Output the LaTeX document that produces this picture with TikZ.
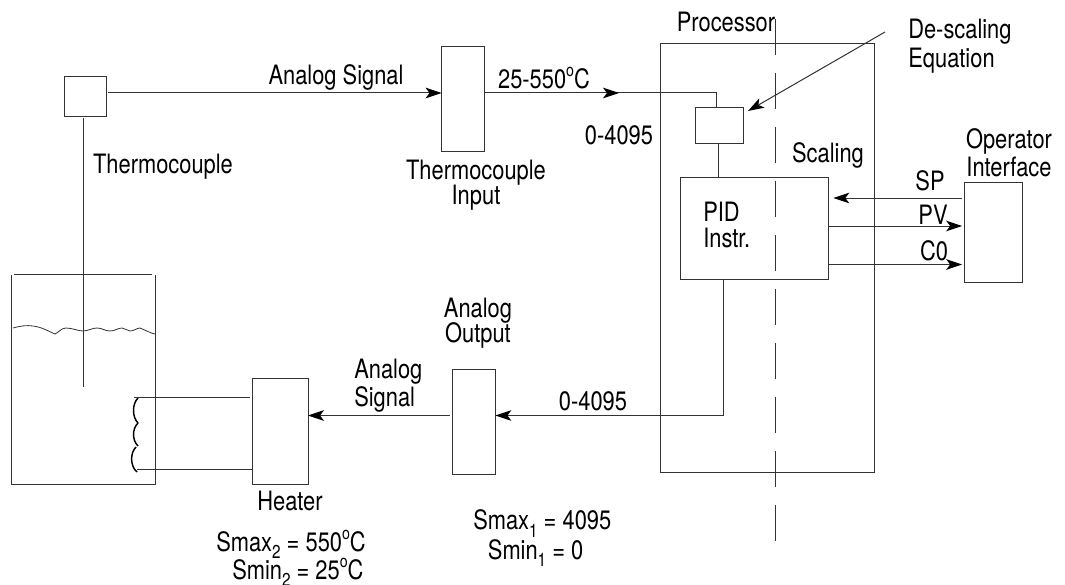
\documentclass[tikz,border=0pt]{standalone}
\usepackage{fontspec}
\setmainfont{TeX Gyre Heros}[FakeStretch=0.82]
\usetikzlibrary{arrows.meta}
\newcommand{\subd}[1]{\smash{\raisebox{-0.28em}{\fontsize{14}{14}\selectfont #1}}}
\newcommand{\supo}{\raisebox{0.42em}{\fontsize{13}{13}\selectfont o}}
\tikzset{
 wire/.style={draw=black!80,line width=0.75pt},
 bx/.style={wire,rectangle,inner sep=0pt,outer sep=0pt},
 lab/.style={font=\fontsize{20}{21}\selectfont,inner sep=0pt,text=black},
 arr/.style={wire,-{Stealth[length=12pt,width=8pt,inset=3pt,color=black]}},
}
\begin{document}
\begin{tikzpicture}[x=0.75pt,y=-0.75pt]
\useasboundingbox (0,0) rectangle (1065,585);
\fill[white] (0,0) rectangle (1065,585);
% boxes
\node[bx,minimum width=160.5pt,minimum height=321pt] (proc) at (767,258) {};
\node[bx,minimum width=31pt,minimum height=29.5pt] (tc) at (85.5,96.5) {};
\node[bx,minimum width=32.5pt,minimum height=79pt] (tci) at (463.2,99) {};
\node[bx,minimum width=36.5pt,minimum height=27pt] (ds) at (719.5,126) {};
\node[bx,minimum width=111pt,minimum height=76.5pt] (pid) at (754,228) {};
\node[bx,minimum width=44pt,minimum height=74.5pt] (op) at (993.5,232.5) {};
\node[bx,minimum width=32.5pt,minimum height=79pt] (ao) at (473.7,422) {};
\node[bx,minimum width=42pt,minimum height=79pt] (heater) at (280,431.5) {};
% tank
\coordinate (tkTL) at (11.5,274.5);
\coordinate (tkTR) at (155,274.5);
\coordinate (tkBL) at (11.5,484.5);
\coordinate (tkBR) at (155,484.5);
\draw[wire] (tkTL) -- (tkBL) -- (tkBR) -- (tkTR);
\draw[wire] (14,274.5) -- (152,274.5);
\draw[wire,line width=0.6pt] (13,328) .. controls (20,326) and (27,325) .. (33,326)
  .. controls (42,327) and (50,332) .. (55,334)
  .. controls (58,333) and (61,328) .. (66,328)
  .. controls (72,328) and (78,331) .. (83,331)
  .. controls (88,331) and (92,328) .. (97,328)
  .. controls (102,328) and (105,331) .. (110,331)
  .. controls (115,331) and (118,328) .. (122,328)
  .. controls (125,328) and (127,331) .. (130,331)
  .. controls (134,331) and (137,328) .. (140,328)
  .. controls (145,330) and (150,333) .. (155,334);
% probe
\coordinate (tip) at (83,387);
\draw[wire] (tc.south -| tip) ++(0,2) -- (tip);
% coil
\coordinate (c1) at (138,398);
\coordinate (c2) at (138,423);
\coordinate (c3) at (138,446);
\coordinate (c4) at (136,447);
\coordinate (c5) at (137,472);
\draw[black,line width=1.1pt] (c1) .. controls (132,404) and (132,417) .. (c2);
\draw[black,line width=1.1pt] (c2) .. controls (132,429) and (132,440) .. (c3);
\draw[black,line width=1.1pt] (c4) .. controls (130,453) and (130,466) .. (c5);
% heater wires
\draw[wire] (134,397.5) -- (250,397.5);
\draw[wire] (137,469.5) -- (heater.west |- 0,469.5);
% signal lines
\draw[arr,shorten <=1.5pt] (tc.east |- 0,93) -- (tci.west |- 0,93);
\coordinate (jt) at (716.5,93);
\draw[wire] (tci.east |- 0,93) -- (jt) -- (ds.north -| jt);
\draw[arr] (tci.east |- 0,93) -- (619,93);
\draw[wire] (ds.south -| 718,0) -- (pid.north -| 718,0);
\coordinate (jb) at (723,415.5);
\draw[wire] (pid.south -| jb) -- (jb);
\draw[arr] (jb) -- (ao.east |- jb);
\draw[arr,shorten <=1.5pt] (ao.west |- jb) -- (heater.east |- jb);
\draw[arr,shorten <=1.5pt,shorten >=4pt] (op.west |- 0,198) -- (pid.east |- 0,198);
\draw[arr,shorten >=1.5pt] (pid.east |- 0,226) -- (op.west |- 0,226);
\draw[arr,shorten >=1.5pt] (pid.east |- 0,264.5) -- (op.west |- 0,264.5);
% de-scaling pointer
\coordinate (dsfrom) at (885,32);
\coordinate (dstip) at (748,111);
\draw[arr] (dsfrom) -- (dstip);
% centre line
\coordinate (clt) at (775,19);
\coordinate (clb) at (775,542);
\draw[wire,dash pattern=on 27pt off 13.5pt] (clt) -- (clb);
% labels
\node[lab] (l1) at (336,77) {Analog Signal};
\node[lab] (l2) at (163,167) {Thermocouple};
\node[lab,align=center] (l3) at (476,185) {Thermocouple\\[-2.2pt]Input};
\node[lab] (l4) at (544,78) {25-550\supo C};
\node[lab] (l5) at (619,135) {0-4095};
\node[lab] (l6) at (726,22) {Processor};
\node[lab,align=left,anchor=west] (l7) at (908,46) {De-scaling\\[1pt]Equation};
\node[lab] (l8) at (828,155) {Scaling};
\node[lab,align=center] (l9) at (1009,153) {Operator\\Interface};
\node[lab] (l10) at (930,181) {SP};
\node[lab] (l11) at (933,215) {PV};
\node[lab] (l12) at (934,251) {C0};
\node[lab,align=left,anchor=west] (l13) at (703,225) {PID\\[-1.5pt]Instr.};
\node[lab,align=center] (l14) at (478,323) {Analog\\[-2.2pt]Output};
\node[lab,align=left,anchor=west] (l15) at (354,386) {Analog\\Signal};
\node[lab] (l16) at (593,401) {0-4095};
\node[lab] (l17) at (290,501) {Heater};
\node[lab,align=left,anchor=west] (l18) at (216,555) {Smax\subd{2} = 550\supo C\\\hspace{12pt}Smin\subd{2} = 25\supo C};
\node[lab,align=left,anchor=west] (l20) at (473,535) {Smax\subd{1} = 4095\\[1.2pt]\hspace{11pt}Smin\subd{1} = 0};
\end{tikzpicture}
\end{document}
